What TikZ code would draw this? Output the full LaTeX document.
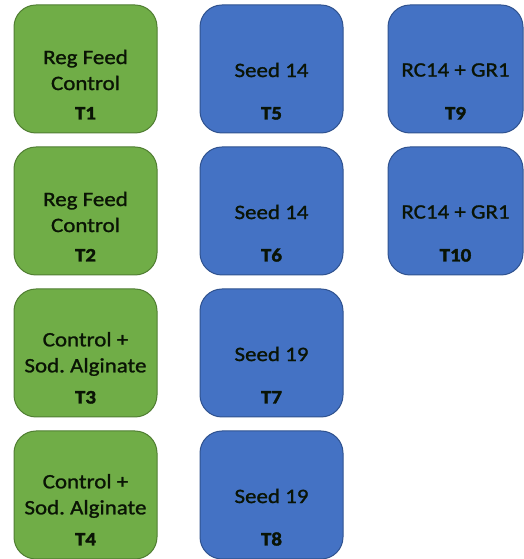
\documentclass[tikz,border=0pt]{standalone}
\usepackage{fontspec}
\setmainfont{Carlito}
\newfontfamily\descfont[FakeStretch=1.12, FakeBold=1.2]{Carlito}
\newfontfamily\tagfont[FakeStretch=1.1, FakeBold=2]{Carlito Bold}
\usetikzlibrary{positioning}
\frenchspacing

\definecolor{regGreen}{HTML}{70AD47}
\definecolor{regGreenEdge}{HTML}{507E32}
\definecolor{seedBlue}{HTML}{4472C4}
\definecolor{seedBlueEdge}{HTML}{2F528F}
\definecolor{inkDark}{HTML}{0A1405}

\tikzset{
	trtbox/.style={draw, line width=1pt, rounded corners=22pt, minimum width=143pt, minimum height=128pt, inner sep=0pt},
	ctrlbox/.style={trtbox, fill=regGreen, draw=regGreenEdge},
	seedbox/.style={trtbox, fill=seedBlue, draw=seedBlueEdge},
	desc/.style={align=center, text=inkDark, font=\descfont\fontsize{20.5}{26}\selectfont},
	tag/.style={anchor=base, text=inkDark, font=\tagfont\fontsize{19}{22}\selectfont}
}

\begin{document}
\begin{tikzpicture}[x=1pt, y=1pt]
			%%%%% START %%%%%
			\useasboundingbox (0, 0) rectangle (524, 559);
			
			% controls
			\node[ctrlbox] (t1) at (85.5, 490) {};
			\node[ctrlbox] (t2) at (85.5, 348) {};
			\node[ctrlbox] (t3) at (85.5, 206) {};
			\node[ctrlbox] (t4) at (85.5, 64) {};
			
			% seeds
			\node[seedbox] (t5) at (271.5, 490) {};
			\node[seedbox] (t6) at (271.5, 348) {};
			\node[seedbox] (t7) at (271.5, 206) {};
			\node[seedbox] (t8) at (271.5, 64) {};
			
			\node[seedbox, minimum width=135pt] (t9) at (455.5, 490) {};
			\node[seedbox, minimum width=135pt] (t10) at (455.5, 348) {};
			
			\node[desc] (t1 desc) at ([yshift=-1pt]t1.center) {Reg Feed\\Control};
			\node[desc] (t2 desc) at ([yshift=-1pt]t2.center) {Reg Feed\\Control};
			\node[desc] (t3 desc) at ([yshift=-1pt]t3.center) {Control +\\Sod. Alginate};
			\node[desc] (t4 desc) at ([yshift=-1pt]t4.center) {Control +\\Sod. Alginate};
			\node[desc] (t5 desc) at ([yshift=-1pt]t5.center) {Seed 14};
			\node[desc] (t6 desc) at ([yshift=-1pt]t6.center) {Seed 14};
			\node[desc] (t7 desc) at ([yshift=-1pt]t7.center) {Seed 19};
			\node[desc] (t8 desc) at ([yshift=-1pt]t8.center) {Seed 19};
			\node[desc] (t9 desc) at ([yshift=-1pt]t9.center) {RC14 + GR1};
			\node[desc] (t10 desc) at ([yshift=-1pt]t10.center) {RC14 + GR1};
			
			\node[tag] (t1 tag) at ([yshift=14pt]t1.south) {T1};
			\node[tag] (t2 tag) at ([yshift=14pt]t2.south) {T2};
			\node[tag] (t3 tag) at ([yshift=14pt]t3.south) {T3};
			\node[tag] (t4 tag) at ([yshift=14pt]t4.south) {T4};
			\node[tag] (t5 tag) at ([yshift=14pt]t5.south) {T5};
			\node[tag] (t6 tag) at ([yshift=14pt]t6.south) {T6};
			\node[tag] (t7 tag) at ([yshift=14pt]t7.south) {T7};
			\node[tag] (t8 tag) at ([yshift=14pt]t8.south) {T8};
			\node[tag] (t9 tag) at ([yshift=14pt]t9.south) {T9};
			\node[tag] (t10 tag) at ([yshift=14pt]t10.south) {T10};
			
			%%%%% END %%%%%
\end{tikzpicture}
\end{document}
